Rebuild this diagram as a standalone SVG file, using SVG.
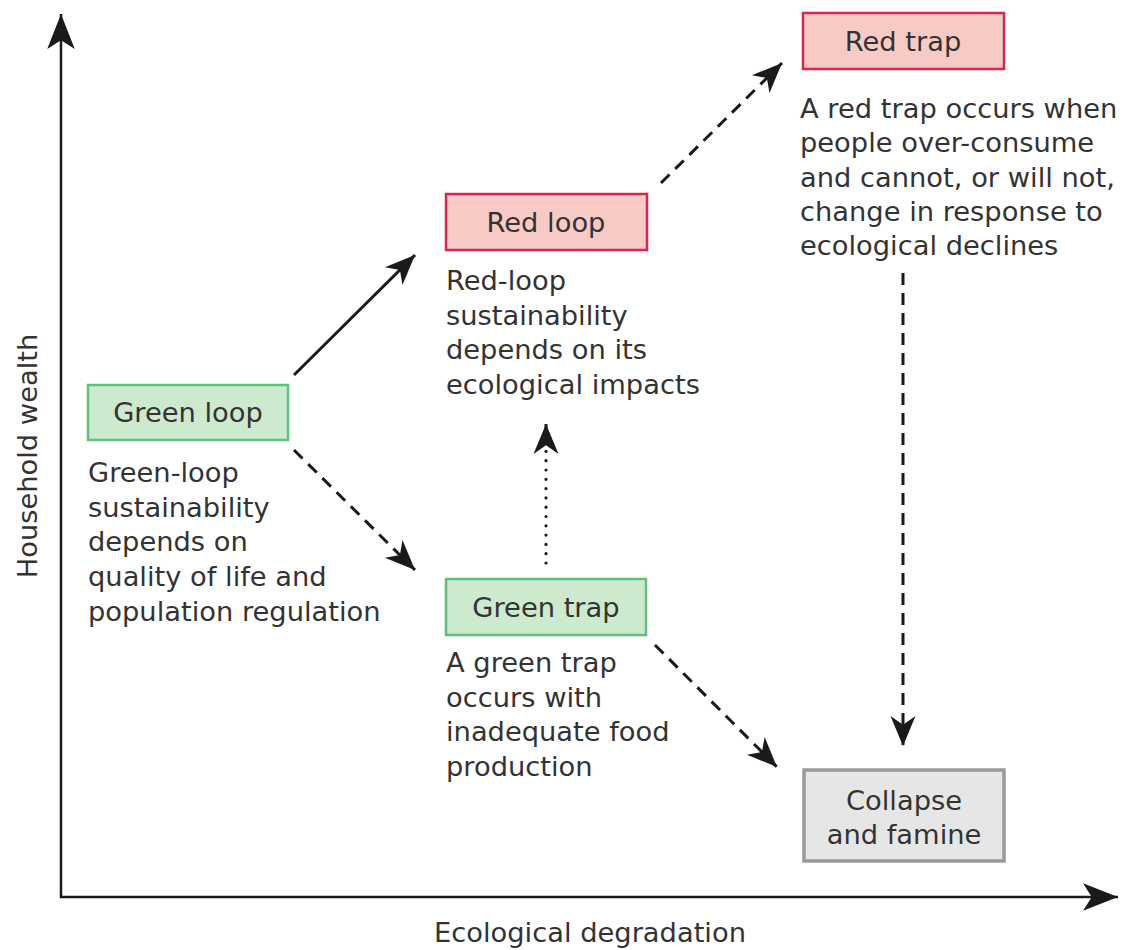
<svg xmlns="http://www.w3.org/2000/svg" width="1123" height="950" viewBox="0 0 1123 950">
<style>
text{font-family:"DejaVu Sans","Open Sans","Liberation Sans",sans-serif;font-size:27.3px;fill:#333}
.c{text-anchor:middle}
.g{fill:#cdeacf;stroke:#5dc27a;stroke-width:2.5}
.r{fill:#f8cac6;stroke:#dc2450;stroke-width:2.5}
.k{fill:#e6e6e6;stroke:#999;stroke-width:3.5}
.ax{stroke:#1a1a1a;stroke-width:2.5;fill:none}
.ln{stroke:#1a1a1a;stroke-width:3;fill:none}
.ds{stroke-dasharray:12 8}
.dt{stroke-dasharray:0 9.3;stroke-linecap:round;stroke-width:3.2}
</style>
<defs>
<marker id="ha" markerUnits="userSpaceOnUse" markerWidth="40" markerHeight="40" viewBox="-30 -15 32 30" refX="0" refY="0" orient="auto">
<path d="M0,0 L-28,-11 L-21,0 L-28,11 Z" fill="#1a1a1a"/>
</marker>
<marker id="hc" markerUnits="userSpaceOnUse" markerWidth="40" markerHeight="40" viewBox="-30 -15 32 30" refX="0" refY="0" orient="auto">
<path d="M0,0 L-24,-10 L-17,0 L-24,10 Z" fill="#1a1a1a"/>
</marker>
</defs>
<g id="axes">
<path class="ax" d="M61,898 L61,14" marker-end="url(#ha)"/>
<path class="ax" d="M60,897 L1118,897" marker-end="url(#ha)"/>
<text class="c" x="590" y="942">Ecological degradation</text>
<text class="c" transform="translate(37,456) rotate(-90)">Household wealth</text>
</g>
<g id="connectors">
<path class="ln" d="M294,375 L415,255" marker-end="url(#hc)"/>
<path class="ln ds" d="M294,450 L415,570" marker-end="url(#hc)"/>
<path class="ln dt" d="M546,563 L546,440"/>
<path class="ln" d="M546,445 L546,424" stroke-width="0" marker-end="url(#hc)"/>
<path class="ln ds" d="M661,183 L782,63" marker-end="url(#hc)"/>
<path class="ln ds" d="M903,273 L903,746" marker-end="url(#hc)"/>
<path class="ln ds" d="M655,645 L777,767" marker-end="url(#hc)"/>
</g>
<g id="green-loop">
<rect class="g" x="88" y="385" width="200" height="55"/>
<text class="c" x="188" y="422">Green loop</text>
<text x="88" y="482">Green-loop</text>
<text x="88" y="517">sustainability</text>
<text x="88" y="551">depends on</text>
<text x="88" y="586">quality of life and</text>
<text x="88" y="621">population regulation</text>
</g>
<g id="red-loop">
<rect class="r" x="446" y="194" width="201" height="56"/>
<text class="c" x="546" y="232">Red loop</text>
<text x="446" y="290">Red-loop</text>
<text x="446" y="325">sustainability</text>
<text x="446" y="359">depends on its</text>
<text x="446" y="394">ecological impacts</text>
</g>
<g id="red-trap">
<rect class="r" x="803" y="13" width="201" height="56"/>
<text class="c" x="903" y="51">Red trap</text>
<text x="800" y="118">A red trap occurs when</text>
<text x="800" y="152">people over-consume</text>
<text x="800" y="187">and cannot, or will not,</text>
<text x="800" y="221">change in response to</text>
<text x="800" y="255">ecological declines</text>
</g>
<g id="green-trap">
<rect class="g" x="446" y="579" width="200" height="56"/>
<text class="c" x="546" y="617">Green trap</text>
<text x="446" y="672">A green trap</text>
<text x="446" y="707">occurs with</text>
<text x="446" y="741">inadequate food</text>
<text x="446" y="776">production</text>
</g>
<g id="collapse">
<rect class="k" x="804" y="770" width="200" height="91"/>
<text class="c" x="904" y="810">Collapse</text>
<text class="c" x="904" y="844">and famine</text>
</g>
</svg>
